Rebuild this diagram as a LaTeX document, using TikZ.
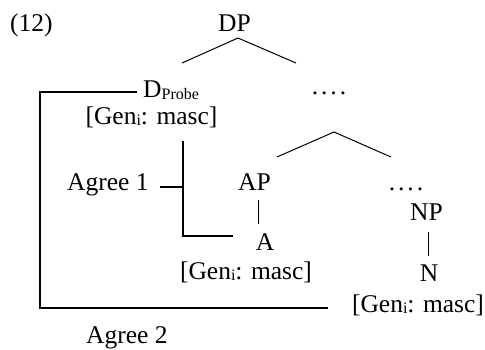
\documentclass[tikz,border=0pt]{standalone}
\usepackage{fontspec}
\setmainfont{Liberation Serif}
\newcommand\lowsub[1]{\raisebox{-1.5pt}{\fontsize{16}{16}\selectfont #1}}
\begin{document}
\begin{tikzpicture}[x=1pt,y=-1pt,
  lbl/.style={inner sep=0pt,anchor=base,font=\fontsize{25.5}{28}\selectfont},
  treeline/.style={line width=1pt},
  agreeline/.style={line width=1.8pt}]
\useasboundingbox (0,0) rectangle (485,349);
% labels
\node[lbl,anchor=base west] (ex) at (10,31) {(12)};
\node[lbl] (dp) at (234.5,31) {DP};
\node[lbl,anchor=base west] (d) at (143,97.5) {D\lowsub{Probe}};
\node[lbl] (gen1) at (151.5,124) {[Gen\lowsub{i}: masc]};
\node[lbl] (dots1) at (329,94) {.\kern3pt.\kern3pt.\kern3pt.};
\node[lbl,anchor=base west] (agree1) at (67,190) {Agree 1};
\node[lbl] (ap) at (254.5,190) {AP};
\node[lbl] (a) at (265,250) {A};
\node[lbl] (gen2) at (246,279) {[Gen\lowsub{i}: masc]};
\node[lbl] (dots2) at (406,190) {.\kern3pt.\kern3pt.\kern3pt.};
\node[lbl] (np) at (426.5,220) {NP};
\node[lbl] (n) at (429,281) {N};
\node[lbl] (gen3) at (418,312) {[Gen\lowsub{i}: masc]};
\node[lbl,anchor=base west] (agree2) at (86,343) {Agree 2};
% tree coordinates
\coordinate (dptop) at (238,38);
\coordinate (dpl) at (182,63);
\coordinate (dpr) at (296,63);
\coordinate (xtop) at (334,132);
\coordinate (xl) at (277,157);
\coordinate (xr) at (391,157);
\coordinate (apb) at (258,200);
\coordinate (ab) at (258,224);
\coordinate (npb) at (428,232);
\coordinate (nb) at (428,256);
\draw[treeline] (dpl) -- (dptop) -- (dpr);
\draw[treeline] (xl) -- (xtop) -- (xr);
\draw[treeline] (apb) -- (ab);
\draw[treeline] (npb) -- (nb);
% agree brackets
\coordinate (g2a) at (137,92);
\coordinate (g2b) at (40,92);
\coordinate (g2c) at (40,308);
\coordinate (g2d) at (328,308);
\draw[agreeline] (g2a) -- (g2b) -- (g2c) -- (g2d);
\coordinate (g1a) at (183,141);
\coordinate (g1b) at (183,236);
\coordinate (g1c) at (233,236);
\coordinate (g1m) at (183,187);
\coordinate (g1s) at (160,187);
\draw[agreeline] (g1a) -- (g1b) -- (g1c);
\draw[agreeline] (g1s) -- (g1m);
\end{tikzpicture}
\end{document}
